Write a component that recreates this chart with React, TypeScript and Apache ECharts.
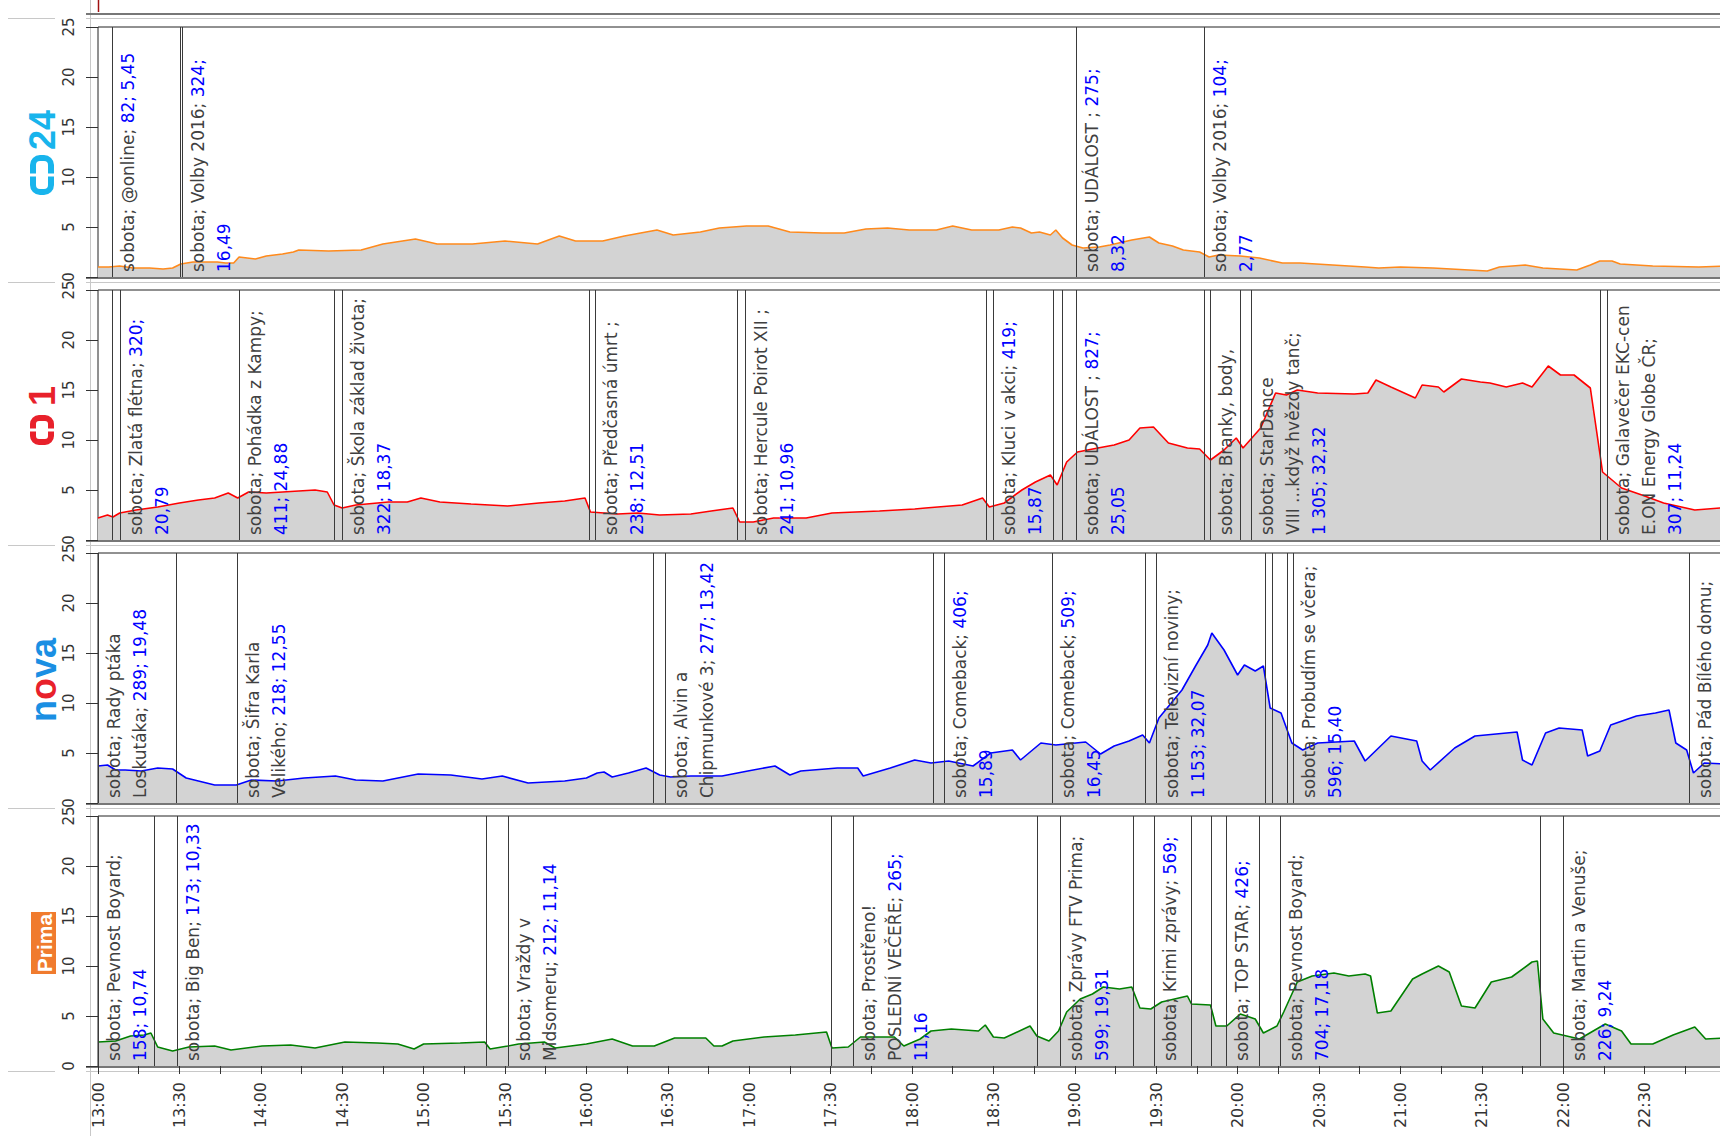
import React, { useEffect, useRef } from "react";
import * as echarts from "echarts";

// minutes after 13:00 -> rating
const ct24Values: number[][] = [[0,1.0],[4,1.0],[8,1.1],[13,0.9],[19,0.9],[24,0.8],[27.5,0.9],[30.5,1.3],[35,1.5],[40,1.5],[44,1.5],[47,1.4],[50,1.4],[52,2.0],[55,1.9],[58,1.8],[62,2.1],[68,2.3],[72,2.5],[74,2.7],[85,2.6],[97,2.7],[105,3.3],[117,3.8],[125,3.3],[138,3.3],[150,3.6],[162,3.3],[170,4.1],[176,3.6],[186,3.6],[194,4.1],[206,4.7],[212,4.2],[222,4.5],[229,4.9],[239,5.1],[247,5.1],[255,4.5],[267,4.4],[275,4.4],[283,4.8],[291,4.9],[299,4.7],[309,4.7],[315,5.1],[322,4.7],[332,4.7],[337,5.0],[340,4.9],[344,4.4],[347,4.5],[351,4.2],[353,4.7],[355.5,3.9],[359,3.2],[363,2.9],[369,3.0],[373,3.2],[381,3.7],[387.5,4.0],[391,3.4],[396,3.1],[400,2.7],[406,2.5],[409.5,2.0],[413,2.2],[421,2.1],[428,1.9],[436.5,1.4],[443,1.4],[455,1.2],[467,1.0],[472,0.9],[480,1.0],[492,0.9],[512,0.6],[516.5,1.0],[526,1.2],[532.5,0.9],[545,0.7],[550,1.2],[553.5,1.6],[558,1.6],[561,1.3],[573,1.1],[590,1.0],[600,1.1]];

const ct1Values: number[][] = [[0,2.2],[3.5,2.5],[5.5,2.3],[8,2.7],[14,3.0],[22,3.3],[30,3.7],[37,4.0],[43,4.2],[48,4.7],[51.5,4.2],[55.5,4.8],[62,4.7],[68,4.8],[74,4.9],[80,5.0],[84.5,4.8],[87,3.5],[90,3.2],[95,3.5],[107,3.8],[114,3.8],[119,4.2],[126,3.8],[137.5,3.6],[151,3.4],[162.5,3.7],[172,3.9],[179.5,4.2],[181.5,2.8],[191.5,2.6],[199,2.7],[207,2.5],[218.5,2.6],[226,2.9],[234,3.2],[236.5,1.8],[241.5,1.8],[249,2.2],[261,2.2],[270.5,2.7],[288,2.9],[301,3.1],[305,3.2],[318.5,3.5],[326,4.2],[328.5,3.3],[334,3.7],[340.5,5.0],[345.5,5.8],[351,6.5],[353.5,5.5],[357,7.8],[361,8.8],[368.5,9.2],[374.5,9.5],[380,10.0],[384,11.2],[389,11.3],[394.5,9.7],[401.5,9.2],[406,9.1],[410,8.0],[415,9.0],[419.5,10.2],[422,9.2],[428.5,11.2],[434,14.7],[438,14.5],[442,15.0],[449.5,14.7],[463,14.6],[468,14.7],[471,16.0],[476.5,15.3],[485.5,14.2],[488,15.5],[494,15.3],[496,14.8],[502.5,16.1],[509.5,15.8],[513,15.7],[519,15.3],[525,15.7],[528.5,15.3],[534.5,17.4],[539,16.5],[544,16.5],[550,15.2],[554.5,6.8],[561.5,5.2],[569,4.5],[577,3.7],[588.5,3.0],[598,3.2],[600,3.1]];

const novaValues: number[][] = [[0,3.7],[3.5,3.8],[6.5,3.3],[10,3.3],[16,3.2],[22,3.5],[27.5,3.4],[32.5,2.5],[37,2.2],[43,1.8],[51,1.8],[56.5,2.3],[66,2.2],[76,2.5],[87.5,2.7],[95,2.3],[105,2.2],[118,2.9],[130,2.8],[141.5,2.4],[149,2.7],[158.5,2.0],[172,2.2],[180,2.5],[184,3.0],[186.5,3.1],[189.5,2.6],[195.5,3.0],[202,3.5],[207,2.8],[211,2.6],[218.5,2.7],[230,2.7],[239.5,3.2],[249.5,3.7],[255,2.8],[259,3.2],[272.5,3.5],[280,3.5],[282,2.7],[292,3.5],[301,4.3],[307,4.0],[313.5,4.2],[322.5,3.7],[329,5.0],[337,5.3],[340,4.3],[347.5,6.0],[353,5.8],[364,6.1],[369.5,4.9],[374.5,5.7],[380,6.2],[385,6.8],[387.5,6.0],[391,8.5],[399.5,11.3],[404.5,13.7],[409,15.8],[410.5,17.0],[415,15.3],[420,12.8],[422.5,13.8],[426.5,13.2],[429.5,13.7],[432,9.5],[436,9.0],[440,6.0],[444,5.3],[449.5,6.0],[463,6.2],[467,4.2],[476.5,6.7],[486,6.2],[488,4.2],[491,3.3],[500,5.5],[507.5,6.7],[523,7.1],[525,4.3],[528.5,3.8],[533.5,7.0],[538.5,7.5],[547,7.3],[549,4.7],[553.5,5.2],[557.5,7.8],[567,8.7],[574,9.0],[579,9.3],[581.5,6.0],[585.5,5.3],[588,3.0],[592,4.0],[600,3.9]];

const primaValues: number[][] = [[0,2.4],[6.5,2.5],[12,3.0],[17,3.1],[19.5,3.3],[22,1.9],[27.5,1.5],[33.5,1.9],[43,2.0],[49,1.6],[60.5,2.0],[71,2.1],[80,1.8],[91,2.4],[103,2.3],[110.5,2.2],[116.5,1.7],[120,2.2],[133.5,2.3],[142.5,2.4],[144.5,1.7],[151,2.0],[155,2.2],[164.5,2.4],[168.5,1.8],[180,2.2],[189.5,2.7],[197,2.0],[205,2.0],[212.5,2.8],[224,2.8],[227,2.0],[230,2.0],[234,2.5],[245.5,2.9],[257,3.1],[268.5,3.4],[270.5,1.8],[276.5,1.9],[281,2.9],[293.5,2.9],[297,2.0],[303,2.7],[307,3.5],[314.5,3.7],[324.5,3.5],[327,4.1],[330,2.9],[334,2.8],[343.5,4.0],[346,3.0],[350.5,2.5],[354,3.5],[357,5.4],[362,6.7],[366.5,7.2],[370.5,7.9],[376.5,7.7],[381,7.9],[384,5.8],[388,5.7],[392,6.4],[401.5,7.0],[403,6.2],[410,6.1],[412,4.0],[416,4.0],[421,5.2],[426.5,4.7],[429.5,3.3],[434.5,4.0],[437,5.4],[442,8.4],[447.5,9.0],[455.5,9.3],[461,9.0],[467,9.2],[469,9.0],[471.5,5.3],[476.5,5.5],[484.5,8.7],[488,9.2],[494,10.0],[498,9.4],[502.5,6.0],[507.5,5.8],[513.5,8.4],[521,8.9],[528.5,10.4],[530.5,10.5],[532.5,4.7],[536.5,3.3],[546,2.7],[555.5,4.2],[561.5,3.5],[565,2.2],[573,2.2],[580.5,3.1],[588.5,3.9],[592.5,2.7],[600,2.8]];

// programme starts: [minute after 13:00, label lines [name part, numbers part]]
type Prog = [number, string[][]];
const ct24Programs: Prog[] = [
  [5, [["sobota; @online; ", "82; 5,45"]]],
  [30.2, []],
  [30.9, [["sobota; Volby 2016; ", "324;"], ["", "16,49"]]],
  [360.3, [["sobota; UDÁLOST ; ", "275;"], ["", "8,32"]]],
  [407.7, [["sobota; Volby 2016; ", "104;"], ["", "2,77"]]],
];
const ct1Programs: Prog[] = [
  [5, []],
  [8, [["sobota; Zlatá flétna; ", "320;"], ["", "20,79"]]],
  [52, [["sobota; Pohádka z Kampy;", ""], ["", "411; 24,88"]]],
  [87, []],
  [90, [["sobota; Škola základ života;", ""], ["", "322; 18,37"]]],
  [181, []],
  [183, [["sobota; Předčasná úmrt ;", ""], ["", "238; 12,51"]]],
  [235.5, []],
  [238.6, [["sobota; Hercule Poirot XII ;", ""], ["", "241; 10,96"]]],
  [327.2, []],
  [329.7, [["sobota; Kluci v akci; ", "419;"], ["", "15,87"]]],
  [352.1, []],
  [355.2, []],
  [360.4, [["sobota; UDÁLOST ; ", "827;"], ["", "25,05"]]],
  [407.8, []],
  [410, [["sobota; Branky, body,", ""]]],
  [420.8, []],
  [425, [["sobota; StarDance", ""], ["VIII ...když hvězdy tanč;", ""], ["", "1 305; 32,32"]]],
  [553.7, []],
  [556, [["sobota; Galavečer EKC-cen", ""], ["E.ON Energy Globe ČR;", ""], ["", "307; 11,24"]]],
];
const novaPrograms: Prog[] = [
  [0, [["sobota; Rady ptáka", ""], ["Loskutáka; ", "289; 19,48"]]],
  [28.6, []],
  [51.4, [["sobota; Šifra Karla", ""], ["Velikého; ", "218; 12,55"]]],
  [204.7, []],
  [209, [["sobota; Alvin a", ""], ["Chipmunkové 3; ", "277; 13,42"]]],
  [307.8, []],
  [311.8, [["sobota; Comeback; ", "406;"], ["", "15,89"]]],
  [351.5, [["sobota; Comeback; ", "509;"], ["", "16,45"]]],
  [385.8, []],
  [390.1, [["sobota; Televizní noviny;", ""], ["", "1 153; 32,07"]]],
  [430.2, []],
  [432.7, []],
  [438.3, []],
  [440.6, [["sobota; Probudím se včera;", ""], ["", "596; 15,40"]]],
  [586.5, [["sobota; Pád Bílého domu;", ""]]],
];
const primaPrograms: Prog[] = [
  [0, [["sobota; Pevnost Boyard;", ""], ["", "158; 10,74"]]],
  [20.5, []],
  [29, [["sobota; Big Ben; ", "173; 10,33"]]],
  [142.9, []],
  [151.2, [["sobota; Vraždy v", ""], ["Midsomeru; ", "212; 11,14"]]],
  [270, []],
  [278.3, [["sobota; Prostřeno!", ""], ["POSLEDNÍ VEČEŘE; ", "265;"], ["", "11,16"]]],
  [346, []],
  [354.7, [["sobota; Zprávy FTV Prima;", ""], ["", "599; 19,31"]]],
  [381.6, []],
  [389.3, [["sobota; Krimi zprávy; ", "569;"]]],
  [402.8, []],
  [410.3, []],
  [415.9, [["sobota; TOP STAR; ", "426;"]]],
  [427.9, []],
  [435.8, [["sobota; Pevnost Boyard;", ""], ["", "704; 17,18"]]],
  [531.4, []],
  [539.9, [["sobota; Martin a Venuše;", ""], ["", "226; 9,24"]]],
];

const channels = [
  { name: "ČT24", values: ct24Values, programs: ct24Programs, color: "#ff8a1c" },
  { name: "ČT1", values: ct1Values, programs: ct1Programs, color: "#ff0000" },
  { name: "Nova", values: novaValues, programs: novaPrograms, color: "#0000ff" },
  { name: "Prima", values: primaValues, programs: primaPrograms, color: "#008000" },
];

const TOPS = [27, 290, 553, 816];
const PH = 250;
const LEFT = 98;
const PW = 1628;
const FONT = "DejaVu Sans";
const LFS = 17;
const LLH = 26;

function fmtTime(v: number) {
  if (v % 30 !== 0 || v >= 600) return "";
  const h = 13 + Math.floor(v / 60);
  const m = v % 60;
  return h + ":" + (m < 10 ? "0" : "") + m;
}

function labelText(lines: string[][]) {
  return lines
    .map(([g, b]) => (g ? "{g|" + g + "}" : "") + (b ? "{b|" + b + "}" : ""))
    .join("\n");
}

function buildOption() {
  const grid = TOPS.map((t) => ({
    left: LEFT, top: t, width: PW, height: PH, show: true,
    borderColor: "#222", borderWidth: 1, backgroundColor: "transparent",
    containLabel: false, outerBoundsMode: "none",
  }));
  const xAxis = TOPS.map((_, i) => ({
    gridIndex: i, type: "value", min: 0, max: 600, interval: 15,
    axisLine: { show: false }, splitLine: { show: false },
    axisTick: { show: i === 3, length: 8, lineStyle: { color: "#333" } },
    axisLabel: {
      show: i === 3, rotate: 90, formatter: fmtTime, fontSize: 16,
      fontFamily: FONT, color: "#333", margin: 16,
    },
  }));
  const yAxis = TOPS.map((_, i) => ({
    gridIndex: i, type: "value", min: 0, max: 25, interval: 5,
    axisLine: { show: false }, splitLine: { show: false },
    axisTick: { show: true, length: 12, lineStyle: { color: "#333" } },
    axisLabel: { rotate: 90, fontSize: 15, fontFamily: FONT, color: "#333", margin: 22 },
  }));
  const series: any[] = [];
  channels.forEach((c, i) => {
    series.push({
      type: "line", xAxisIndex: i, yAxisIndex: i, data: c.values,
      showSymbol: false, symbol: "none", silent: true, z: 2,
      lineStyle: { color: c.color, width: 1.6 },
      areaStyle: { color: "#d3d3d3", opacity: 1 },
    });
    series.push({
      type: "custom", xAxisIndex: i, yAxisIndex: i, silent: true, z: 3,
      data: c.programs.map((p) => [p[0], 0]),
      encode: { x: 0, y: 1 },
      renderItem: (params: any, api: any) => {
        const m = api.value(0);
        const lo = api.coord([m, 0]);
        const hi = api.coord([m, 25]);
        const x = Math.round(lo[0]) + 0.5;
        const prog = c.programs[params.dataIndex];
        const children: any[] = [
          { type: "line", shape: { x1: x, y1: hi[1], x2: x, y2: lo[1] }, style: { stroke: "#3a3a3a", lineWidth: 1 } },
        ];
        if (prog[1].length) {
          children.push({
            type: "text", x: x + 2, y: lo[1] - 5, rotation: Math.PI / 2,
            style: {
              text: labelText(prog[1]), align: "left", verticalAlign: "top",
              fontSize: LFS, fontFamily: FONT, lineHeight: LLH,
              rich: {
                g: { fill: "#404040", fontSize: LFS, fontFamily: FONT, lineHeight: LLH },
                b: { fill: "#0000ff", fontSize: LFS, fontFamily: FONT, lineHeight: LLH },
              },
            },
          });
        }
        return { type: "group", children };
      },
    });
  });

  const graphic: any[] = [];
  const lg = "#c8c8c8";
  graphic.push({ type: "line", shape: { x1: 90.5, y1: 0, x2: 90.5, y2: 1136 }, style: { stroke: lg, lineWidth: 1 } });
  graphic.push({ type: "line", shape: { x1: 98.5, y1: 0, x2: 98.5, y2: 12 }, style: { stroke: "#a01010", lineWidth: 1.5 } });
  const darkYs = [14, ...TOPS.map((t) => t + PH + 1)];
  darkYs.forEach((y) => {
    graphic.push({ type: "line", shape: { x1: 86, y1: y, x2: 1720, y2: y }, style: { stroke: "#777", lineWidth: 2 } });
    graphic.push({ type: "line", shape: { x1: 86, y1: y + 4.5, x2: 1720, y2: y + 4.5 }, style: { stroke: lg, lineWidth: 1 } });
    graphic.push({ type: "line", shape: { x1: 8, y1: y + 4.5, x2: 55, y2: y + 4.5 }, style: { stroke: lg, lineWidth: 1 } });
  });

  // ČT24 logo
  const cyan = "#18b4ec";
  graphic.push({ type: "text", x: 42, y: 130, rotation: Math.PI / 2, style: { text: "24", fontSize: 36, fontWeight: "bold", fontFamily: "Liberation Sans", fill: cyan, align: "center", verticalAlign: "middle" } });
  graphic.push({ type: "rect", shape: { x: 33, y: 158, width: 18, height: 34, r: 7 }, style: { fill: "none", stroke: cyan, lineWidth: 6 } });
  graphic.push({ type: "rect", shape: { x: 27, y: 173.5, width: 30, height: 3 }, style: { fill: "#fff" } });
  // ČT1 logo
  const red = "#e8212b";
  graphic.push({ type: "text", x: 42, y: 396, rotation: Math.PI / 2, style: { text: "1", fontSize: 36, fontWeight: "bold", fontFamily: "Liberation Sans", fill: red, align: "center", verticalAlign: "middle" } });
  graphic.push({ type: "rect", shape: { x: 33, y: 418, width: 18, height: 24, r: 6 }, style: { fill: "none", stroke: red, lineWidth: 6 } });
  graphic.push({ type: "rect", shape: { x: 27, y: 428.5, width: 30, height: 3 }, style: { fill: "#fff" } });
  // Nova logo
  graphic.push({
    type: "text", x: 43, y: 680, rotation: Math.PI / 2,
    style: {
      text: "{n|n}{o|o}{n|va}", align: "center", verticalAlign: "middle",
      rich: {
        n: { fill: "#1a8fe3", fontSize: 36, fontWeight: "bold", fontFamily: "Liberation Sans" },
        o: { fill: "#e8212b", fontSize: 36, fontWeight: "bold", fontFamily: "Liberation Sans" },
      },
    },
  });
  // Prima logo
  graphic.push({ type: "rect", shape: { x: 31, y: 912, width: 25, height: 62 }, style: { fill: "#f07b2e" } });
  graphic.push({ type: "text", x: 44, y: 943, rotation: Math.PI / 2, style: { text: "Prima", fontSize: 21, fontWeight: "bold", fontFamily: "Liberation Sans", fill: "#fff", align: "center", verticalAlign: "middle" } });

  return { animation: false, backgroundColor: "#fff", grid, xAxis, yAxis, series, graphic };
}

export default function App() {
  const ref = useRef<HTMLDivElement>(null);
  useEffect(() => {
    if (!ref.current) return;
    const chart = echarts.init(ref.current, undefined, { renderer: "svg" });
    chart.setOption(buildOption() as any);
    return () => chart.dispose();
  }, []);
  return <div ref={ref} style={{ position: "absolute", left: 0, top: 0, width: 1720, height: 1136 }} />;
}
